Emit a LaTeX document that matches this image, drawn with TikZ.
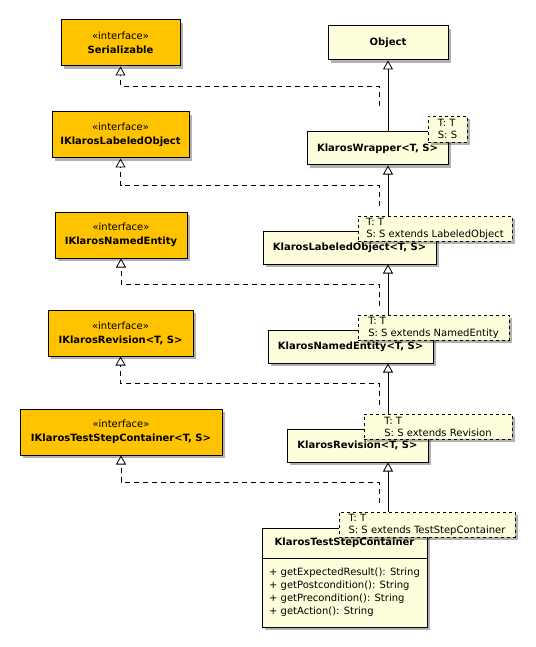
\documentclass[tikz,border=0pt]{standalone}
\usepackage{fontspec}
\setmainfont{DejaVu Sans}
\usetikzlibrary{arrows.meta, shadows}
\definecolor{ifacegold}{HTML}{FFC300}
\definecolor{classcream}{HTML}{FEFEDC}
\tikzset{umlshadow/.style = {drop shadow={shadow xshift=3pt, shadow yshift=-3pt, opacity=0.3, fill=black}}}
\tikzset{iface/.style = {shape=rectangle, draw, line width=1pt, fill=ifacegold, umlshadow, align=center, minimum height=46pt, inner sep=0pt, font=\fontsize{10}{14}\selectfont}}
\tikzset{klass/.style = {shape=rectangle, draw, line width=1pt, fill=classcream, umlshadow, align=center, minimum height=33pt, inner sep=0pt, font=\fontsize{10}{12}\selectfont\bfseries}}
\tikzset{binding/.style = {shape=rectangle, draw, dashed, line width=0.8pt, fill=classcream, umlshadow, align=left, minimum height=25pt, inner sep=0pt, font=\fontsize{10}{12}\selectfont}}
\tikzset{inherit/.style = {-{Triangle[open, width=10pt, length=9pt]}, line width=0.8pt}}
\tikzset{realize/.style = {inherit, dash pattern=on 5pt off 4pt}}

\begin{document}
\begin{tikzpicture}[x=1pt, y=-1pt]
                \useasboundingbox (0,0) rectangle (535,647);
                % interfaces
                \node[iface, minimum width=119pt] (ser) at (120.5,43) {«interface»\\\textbf{Serializable}};
                \node[iface, minimum width=137pt] (ilo) at (120.5,135) {«interface»\\\textbf{IKlarosLabeledObject}};
                \node[iface, minimum width=132pt] (ine) at (121,235) {«interface»\\\textbf{IKlarosNamedEntity}};
                \node[iface, minimum width=145pt] (irev) at (120.5,333) {«interface»\\\textbf{IKlarosRevision<T, S>}};
                \node[iface, minimum width=202pt] (itsc) at (121,432) {«interface»\\\textbf{IKlarosTestStepContainer<T, S>}};
                % classes
                \node[klass, minimum width=120pt, minimum height=34pt] (obj) at (388,43) {Object};
                \node[klass, minimum width=141pt] (wrap) at (377.5,148.5) {KlarosWrapper<T, S>};
                \node[klass, minimum width=173pt] (lab) at (349.5,247.5) {KlarosLabeledObject<T, S>};
                \node[klass, minimum width=165pt] (named) at (350.5,346.5) {KlarosNamedEntity<T, S>};
                \node[klass, minimum width=141pt] (rev) at (357.5,445.5) {KlarosRevision<T, S>};
                \node[klass, minimum width=165pt, minimum height=30pt] (tsc) at (344.5,543) {KlarosTestStepContainer};
                \node[klass, font=\fontsize{10}{13}\selectfont, align=left, minimum width=165pt, minimum height=69pt] (tscops) at (344.5,592.5) {+ getExpectedResult(): String\\+ getPostcondition(): String\\+ getPrecondition(): String\\+ getAction(): String};
                % inheritance
                \draw[inherit] (wrap.north -| obj.south) -- (obj.south);
                \draw[inherit] (lab.north -| obj.south) -- (wrap.south -| obj.south);
                \draw[inherit] (named.north -| obj.south) -- (lab.south -| obj.south);
                \draw[inherit] (rev.north -| obj.south) -- (named.south -| obj.south);
                \draw[inherit] (tsc.north -| obj.south) -- (rev.south -| obj.south);
                % realization
                \coordinate (d1) at (379,106);
                \coordinate (d2) at (379,206);
                \coordinate (d3) at (379,306);
                \coordinate (d4) at (379,405);
                \coordinate (d5) at (379,503);
                \draw[realize] (d1) -- ++(0,-20) -| (ser.south);
                \draw[realize] (d2) -- ++(0,-21) -| (ilo.south);
                \draw[realize] (d3) -- ++(0,-22) -| (ine.south);
                \draw[realize] (d4) -- ++(0,-22) -| (irev.south);
                \draw[realize] (d5) -- ++(0,-21) -| (itsc.south);
                % template bindings
                \node[binding, minimum width=39pt, minimum height=26pt] (n1) at (447.5,129) {T: T\\S: S};
                \node[binding, minimum width=154pt] (n2) at (435,228.5) {T: T\\S: S extends LabeledObject};
                \node[binding, minimum width=151pt] (n3) at (433.5,327.5) {T: T\\S: S extends NamedEntity};
                \node[binding, minimum width=148pt] (n4) at (438,426.5) {T: T\\S: S extends Revision};
                \node[binding, minimum width=176pt] (n5) at (427,524.5) {T: T\\S: S extends TestStepContainer};
            \end{tikzpicture}
\end{document}
